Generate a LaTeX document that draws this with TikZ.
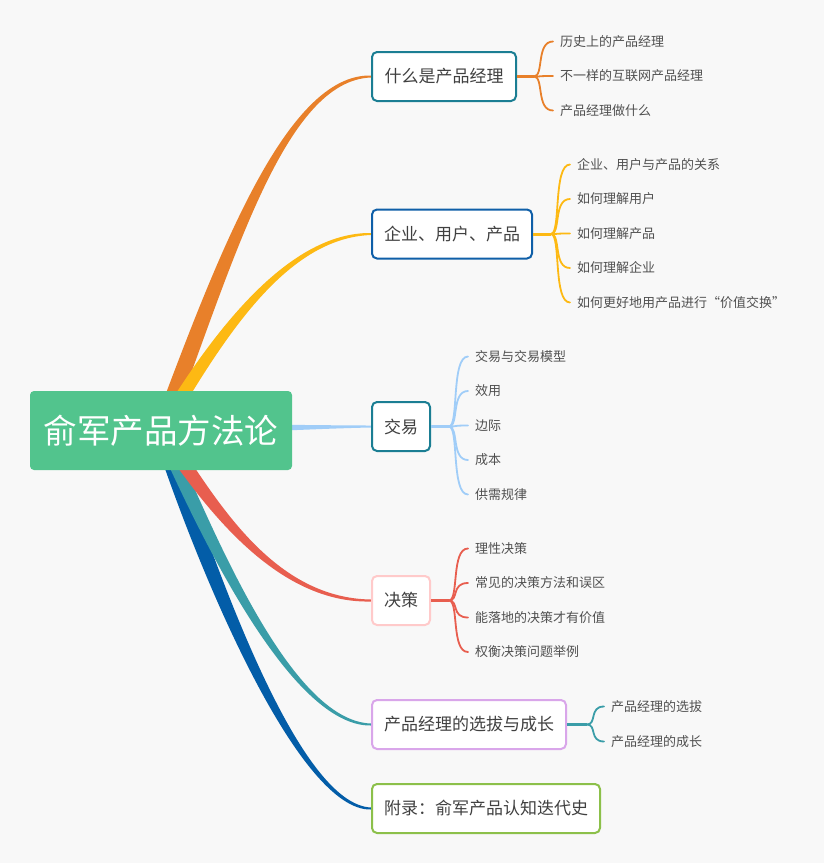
\documentclass[tikz,border=0pt]{standalone}
\usepackage{fontspec}
\setmainfont{Noto Sans CJK SC}
\usetikzlibrary{calc}
\pgfdeclarelayer{background}
\pgfsetlayers{background,main}
\definecolor{bgc}{HTML}{F8F8F8}
\definecolor{rootc}{HTML}{52C48D}
\definecolor{cOr}{HTML}{E8802A}
\definecolor{cYe}{HTML}{FDB913}
\definecolor{cLb}{HTML}{A0CDF8}
\definecolor{cRd}{HTML}{E85E4F}
\definecolor{cTl}{HTML}{3A9DA8}
\definecolor{cDb}{HTML}{035DA8}
\definecolor{bTeal}{HTML}{1B7E93}
\definecolor{bBlue}{HTML}{0F5FA8}
\definecolor{bPink}{HTML}{FFCACA}
\definecolor{bLilac}{HTML}{D9A6EA}
\definecolor{bGreen}{HTML}{8CC04A}
\definecolor{txt}{HTML}{404040}
\definecolor{subtxt}{HTML}{505050}
% tapered branch: color, P0, P1, P2, P3, start offset, control-2 offset, end offset
\newcommand\taperbranch[8]{%
  \fill[#1] ($#2+#6$) .. controls ($#3+#6$) and ($#4+#7$) .. ($#5+#8$)
     -- ($#5-#8$) .. controls ($#4-#7$) and ($#3-#6$) .. ($#2-#6$) -- cycle;}
\begin{document}
\begin{tikzpicture}[x=1pt,y=-1pt,
  rootbox/.style={fill=rootc, rounded corners=4pt, text=white,
    minimum width=262pt, minimum height=79pt, inner sep=0pt,
    font=\fontsize{33.5}{38}\selectfont},
  topicbox/.style={draw=#1, line width=2pt, fill=white, rounded corners=5pt,
    text=txt, minimum height=49pt, inner sep=0pt,
    font=\fontsize{17}{20}\selectfont},
  subtopic/.style={anchor=west, inner xsep=7pt, inner ysep=2pt, text=subtxt,
    font=\fontsize{13}{16}\selectfont},
  stub/.style={draw=#1, line width=3pt},
  twig/.style={draw=#1, line width=1.8pt, line cap=round}
]
\useasboundingbox (0,0) rectangle (824,863);

% root
\node[rootbox] (root) at (161,430.5) {俞军产品方法论};

% main topics
\node[topicbox=bTeal, minimum width=144pt] (n1) at (444,76.5) {什么是产品经理};
\node[topicbox=bBlue, minimum width=160pt] (n2) at (452,234) {企业、用户、产品};
\node[topicbox=bTeal, minimum width=58pt] (n3) at (401,426.5) {交易};
\node[topicbox=bPink, minimum width=58pt] (n4) at (401,600.5) {决策};
\node[topicbox=bLilac, minimum width=194pt] (n5) at (469,724.5) {产品经理的选拔与成长};
\node[topicbox=bGreen, minimum width=228pt] (n6) at (486,808.5) {附录：俞军产品认知迭代史};

% subtopics
\node[subtopic] (c11) at (553,41.5) {历史上的产品经理};
\node[subtopic] (c12) at (553,76) {不一样的互联网产品经理};
\node[subtopic] (c13) at (553,110.5) {产品经理做什么};

\node[subtopic] (c21) at (570,164.5) {企业、用户与产品的关系};
\node[subtopic] (c22) at (570,199) {如何理解用户};
\node[subtopic] (c23) at (570,233.5) {如何理解产品};
\node[subtopic] (c24) at (570,268) {如何理解企业};
\node[subtopic] (c25) at (570,302.5) {如何更好地用产品进行“价值交换”};

\node[subtopic] (c31) at (468,356.5) {交易与交易模型};
\node[subtopic] (c32) at (468,391) {效用};
\node[subtopic] (c33) at (468,425.5) {边际};
\node[subtopic] (c34) at (468,460) {成本};
\node[subtopic] (c35) at (468,494.5) {供需规律};

\node[subtopic] (c41) at (468,548.5) {理性决策};
\node[subtopic] (c42) at (468,583) {常见的决策方法和误区};
\node[subtopic] (c43) at (468,617.5) {能落地的决策才有价值};
\node[subtopic] (c44) at (468,652) {权衡决策问题举例};

\node[subtopic] (c51) at (604,706.5) {产品经理的选拔};
\node[subtopic] (c52) at (604,741.5) {产品经理的成长};

% hubs
\coordinate (h1) at ($(n1.east)+(17,0)$);
\coordinate (h2) at ($(n2.east)+(18,0)$);
\coordinate (h3) at ($(n3.east)+(18,0)$);
\coordinate (h4) at ($(n4.east)+(18,0)$);
\coordinate (h5) at ($(n5.east)+(20,0)$);

% stubs
\draw[stub=cOr] (n1.east) -- (h1);
\draw[stub=cYe] (n2.east) -- (h2);
\draw[stub=cLb] (n3.east) -- (h3);
\draw[stub=cRd] (n4.east) -- (h4);
\draw[stub=cTl] (n5.east) -- (h5);

% twigs
\foreach \h/\c/\col in {h1/c11/cOr,h1/c12/cOr,h1/c13/cOr,
  h2/c21/cYe,h2/c22/cYe,h2/c23/cYe,h2/c24/cYe,h2/c25/cYe,
  h3/c31/cLb,h3/c32/cLb,h3/c33/cLb,h3/c34/cLb,h3/c35/cLb,
  h4/c41/cRd,h4/c42/cRd,h4/c43/cRd,h4/c44/cRd,
  h5/c51/cTl,h5/c52/cTl}{
  \draw[twig=\col] (\h) .. controls ($(\h)+(10,0)$) and ($(\h |- \c.west)+(2,0)$) .. (\c.west);
}

\begin{pgfonlayer}{background}
  \fill[bgc] (0,0) rectangle (824,863);
  \taperbranch{cOr}{(root.center)}{(225,260)}{(285,77)}{(n1.west)}{(-9,0)}{(0,-3.5)}{(0,-1)}
  \taperbranch{cYe}{(root.center)}{(215,340)}{(285,235)}{(n2.west)}{(-8,0)}{(0,-3)}{(0,-1)}
  \taperbranch{cLb}{(root.center)}{(250,428)}{(320,427)}{(n3.west)}{(0,-4.5)}{(0,-1.5)}{(0,-1)}
  \taperbranch{cDb}{(root.center)}{(210,580)}{(300,808)}{(n6.west)}{(-9,0)}{(0,3.5)}{(0,1)}
  \taperbranch{cTl}{(root.center)}{(205,530)}{(290,724)}{(n5.west)}{(-8,0)}{(0,3)}{(0,1)}
  \taperbranch{cRd}{(root.center)}{(205,495)}{(270,601)}{(n4.west)}{(-9,0)}{(0,3)}{(0,1)}
\end{pgfonlayer}
\end{tikzpicture}
\end{document}
